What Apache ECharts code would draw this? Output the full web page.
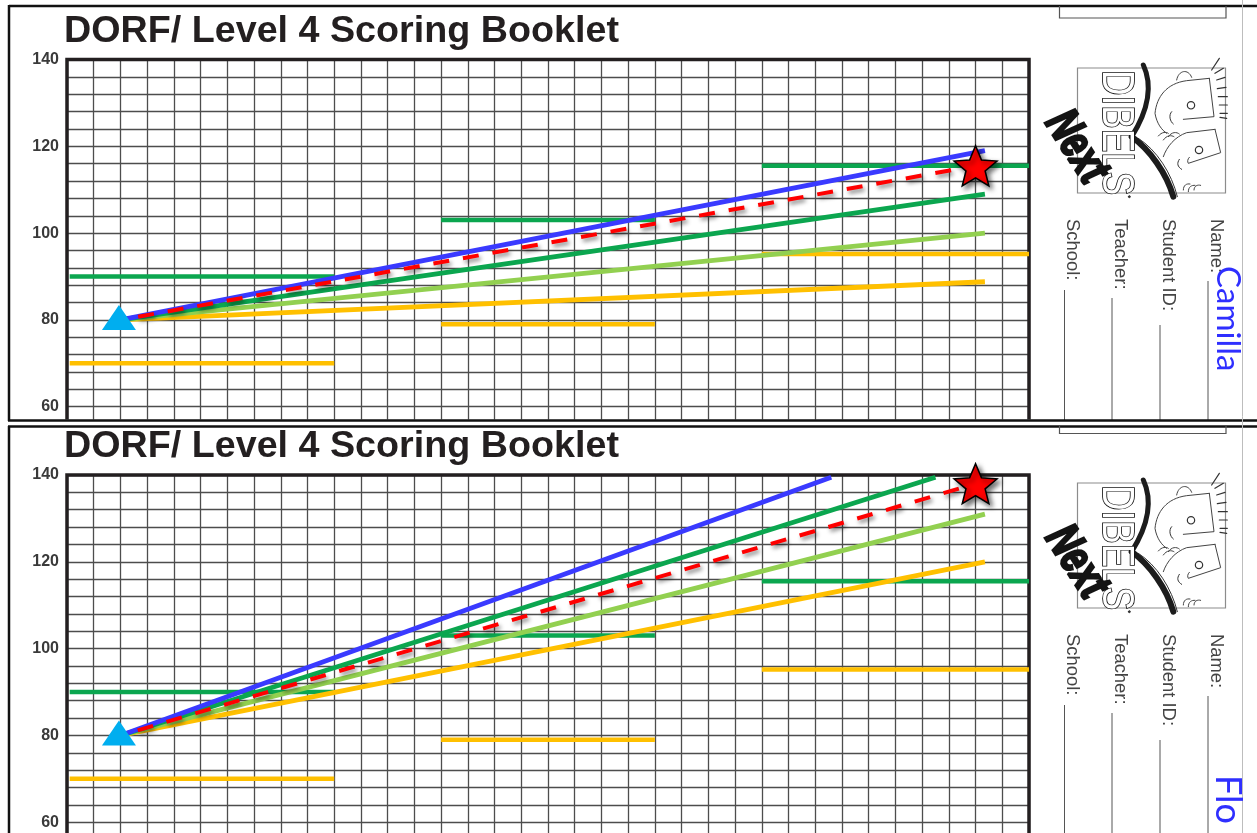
<!DOCTYPE html>
<html>
<head>
<meta charset="utf-8">
<style>html,body{margin:0;padding:0;background:#fff;overflow:hidden;width:1257px;height:833px}#c{width:1257px;height:850px}</style>
<script src="https://cdn.jsdelivr.net/npm/echarts@6/dist/echarts.min.js"></script>
</head>
<body>
<div id="c"></div>
<script>
// ---- values ----
const titleText = 'DORF/ Level 4 Scoring Booklet';
const yTickLabels = [60, 80, 100, 120, 140];
const fieldLabels = ['School:', 'Teacher:', 'Student ID:', 'Name:'];
const studentNames = ['Camilla', 'Flo'];
const benchSpans = [[0.1, 10], [14, 22], [26, 36]];
const greenBench = [90, 103, 115.5];
const yellowBench = [70, 79, 95.2];
const startPoint = [2, 80];
const camillaBlue = [34.35, 119];
const camillaGreen = [34.35, 109];
const camillaLight = [34.35, 100];
const camillaYellow = [34.35, 88.8];
const camillaGoal = [34, 115.5];
const floBlue = [28.6, 139.5];
const floGreen = [32.5, 139.5];
const floLight = [34.35, 131];
const floYellow = [34.35, 120];
const floGoal = [34, 138];

const C = {blue:'#3a3aff', green:'#0ba64f', light:'#92d050', yellow:'#ffc000', red:'#ff0000', tri:'#00aeef', ink:'#231f20'};
const starPath = 'path://M50 0 L63.8 33.6 L100 36.3 L72.3 59.9 L80.9 95.1 L50 76.1 L19.1 95.1 L27.7 59.9 L0 36.3 L36.2 33.6 Z';
const F = '"Liberation Sans", Arial, sans-serif';

function panelSeries(i, blue, green, light, yellow, goal) {
  const out = [];
  const base = {type:'line', xAxisIndex:i, yAxisIndex:i, symbol:'none', clip:false, silent:true};
  benchSpans.forEach((s, k) => {
    out.push({...base, z:3, data:[[s[0], yellowBench[k]], [s[1], yellowBench[k]]], lineStyle:{color:C.yellow, width:4.5, cap:'butt'}});
    out.push({...base, z:3, data:[[s[0], greenBench[k]], [s[1], greenBench[k]]], lineStyle:{color:C.green, width:4.5, cap:'butt'}});
  });
  [[yellow, C.yellow], [light, C.light], [green, C.green], [blue, C.blue]].forEach(p => {
    out.push({...base, z:4, data:[startPoint, p[0]], lineStyle:{color:p[1], width:4.8, cap:'butt'}});
  });
  out.push({...base, z:5, data:[startPoint, goal], lineStyle:{color:C.red, width:4, type:[16,14], dashOffset:-18,
    shadowColor:'rgba(0,0,0,0.45)', shadowBlur:4, shadowOffsetX:2, shadowOffsetY:3}});
  out.push({type:'scatter', xAxisIndex:i, yAxisIndex:i, z:6, silent:true, data:[startPoint], symbol:'triangle',
    symbolSize:[34,25], symbolOffset:[-1.5,-2.5], itemStyle:{color:C.tri, opacity:1}});
  out.push({type:'scatter', xAxisIndex:i, yAxisIndex:i, z:7, silent:true, data:[goal], symbol:starPath,
    symbolKeepAspect:false, symbolSize:[43,40],
    itemStyle:{color:C.red, opacity:1, borderColor:'#000', borderWidth:1.5, shadowColor:'rgba(0,0,0,0.55)', shadowBlur:5, shadowOffsetX:3, shadowOffsetY:3}});
  return out;
}

const grids = [59.5, 475].map(t => ({left:67, width:962, top:t, height:364.6, show:true, borderColor:C.ink, borderWidth:3.5, backgroundColor:'transparent', z:2}));
const xAxes = [0,1].map(i => ({type:'value', gridIndex:i, min:0, max:36, interval:1,
  axisLine:{show:false}, axisTick:{show:false}, axisLabel:{show:false},
  splitLine:{show:true, lineStyle:{color:'#4d4d4d', width:1.3}}}));
const yAxes = [0,1].map(i => ({type:'value', gridIndex:i, min:56, max:140, interval:4,
  axisLine:{show:false}, axisTick:{show:false},
  axisLabel:{show:true, customValues:yTickLabels, margin:8, color:'#3a3a3a', fontFamily:F, fontWeight:'bold', fontSize:16},
  splitLine:{show:true, lineStyle:{color:'#4d4d4d', width:1.3}}}));

const R = -Math.PI/2;
function vText(text, x, y, font, fill, extra) {
  return {type:'text', x, y, rotation:R, z:60, silent:true,
    style:{text, font, fill, align:'left', verticalAlign:'middle', ...(extra||{})}};
}
function line(x1,y1,x2,y2,stroke,w,z){
  return {type:'line', silent:true, z:z||60, shape:{x1,y1,x2,y2}, style:{stroke, lineWidth:w, fill:null}};
}
let shapeCount = 0;
function zp(d, w, stroke, fill){ // logo strokes written in 3x crop units
  const name = 'logoStroke' + (shapeCount++);
  echarts.graphic.registerShape(name, echarts.graphic.extendPath(d, {}));
  return {type:name, silent:true, z:61, scaleX:1/3, scaleY:1/3,
    style:{stroke:stroke||'#222', lineWidth:(w||1.5)*3, fill:fill||'none', lineCap:'round', lineJoin:'round'}};
}
function logo(dy){
  const kids = [
    {type:'rect', silent:true, z:60, shape:{x:1077.5-900, y:68, width:148, height:125}, style:{stroke:'#8c8c8c', lineWidth:1.2, fill:'#fff'}},
    zp('M730 195 C760 260 745 330 695 410', 5, '#1c1c1c'),
    zp('M695 410 C750 450 800 520 820 590', 6, '#1c1c1c'),
    zp('M715 415 C770 450 815 520 832 590', 1, '#333'),
    zp('M928 235 L860 242 C800 250 770 290 765 340 C770 370 785 390 800 400 M928 235 L942 350 L850 358', 1, '#444'),
    zp('M830 240 C835 210 865 205 875 232', 1, '#444'),
    zp('M873 316 m-11 0 a11 11 0 1 0 22 0 a11 11 0 1 0 -22 0', 1.2, '#333'),
    zp('M815 335 C805 345 810 365 820 372', 1, '#333'),
    zp('M945 388 L860 398 C825 410 800 440 790 470 M945 388 L962 458 L865 490 C862 485 862 478 868 472', 1, '#444'),
    zp('M897 450 m-11 0 a11 11 0 1 0 22 0 a11 11 0 1 0 -22 0', 1.2, '#333'),
    zp('M838 478 C830 490 832 500 845 508', 1, '#333'),
    zp('M775 408 C785 395 800 395 805 400 M790 420 C800 405 815 405 822 410 M805 410 C815 395 830 395 838 402', 1, '#444'),
    zp('M850 570 C850 555 860 550 870 552 M865 575 C865 560 875 555 885 556 M882 570 C882 558 892 553 902 556', 1, '#444'),
    zp('M958 175 L935 210 M970 205 L945 220 M975 232 L950 240 M978 262 L952 266 M982 290 L955 290 M982 315 L958 315 M982 340 L960 340 M980 355 L960 352', 1.2, '#333'),
    {type:'text', silent:true, z:61, x:1115-900, y:70, rotation:R, scaleX:0.8, scaleY:1,
      style:{text:'DIBELS', font:'44px '+F, fill:'#fff', stroke:'#111', lineWidth:1.7, align:'left', verticalAlign:'middle'}},
    {type:'text', silent:true, z:62, x:1076-900, y:147, rotation:-1.0, scaleX:1, scaleY:1.35,
      style:{text:'Next', font:'italic bold 35px '+F, fill:'#141414', stroke:'#141414', lineWidth:2, align:'center', verticalAlign:'middle'}},
    zp('M688 590 m-3 0 a3 3 0 1 0 6 0 a3 3 0 1 0 -6 0', 1, '#333', '#333'),
  ];
  return {type:'group', x:900, y:dy, children:kids};
}
function sideBlock(dy, bottom){
  const xs = [1072.5, 1120, 1168.5, 1216.5];
  const lx = [1064.5, 1112, 1160, 1208];
  const ly = [290, 298, 325, 281];
  const out = [];
  fieldLabels.forEach((t,i) => {
    out.push(vText(t, xs[i], 219+dy, '18.4px '+F, '#444'));
    out.push(line(lx[i], ly[i]+dy, lx[i], bottom, '#555', 1));
  });
  return out;
}

const graphic = [
  // the second sheet starts here, so the first one's grid is cut off
  {type:'rect', silent:true, z:50, shape:{x:0,y:419.5,width:1257,height:7}, style:{fill:'#fff'}},
  ...sideBlock(0, 420), ...sideBlock(415, 833),
  logo(0), logo(415),
  // sheet frames
  line(9,6,1257,6,'#111',2.5), line(9,5,9,421,'#111',2.5), line(8,420.5,1257,420.5,'#111',2.5),
  line(8,426.5,1257,426.5,'#111',2.5), line(9,426,9,833,'#111',2.5),
  // clipped box at the top of each sheet
  {type:'polyline', silent:true, z:60, shape:{points:[[1059.5,6],[1059.5,18],[1226,18],[1226,6]]}, style:{stroke:'#555',lineWidth:1.2,fill:null}},
  {type:'polyline', silent:true, z:60, shape:{points:[[1059.5,426],[1059.5,433.5],[1226,433.5],[1226,426]]}, style:{stroke:'#555',lineWidth:1.2,fill:null}},
  line(1242.5,0,1242.5,833,'#bdbdbd',1),
  vText(studentNames[0], 1228, 266, '33px Lato, "Noto Sans", sans-serif', '#2f2fff'),
  vText(studentNames[1], 1228, 775, '36px Lato, "Noto Sans", sans-serif', '#2f2fff'),
];

const chart = echarts.init(document.getElementById('c'), null, {renderer:'canvas'});
chart.setOption({
  animation:false, backgroundColor:'#fff',
  title:[13,428].map(t => ({text:titleText, left:59, top:t, padding:[0,5],
    textStyle:{fontFamily:F, fontWeight:'bold', fontSize:37.7, color:C.ink}})),
  grid:grids, xAxis:xAxes, yAxis:yAxes,
  series:[
    ...panelSeries(0, camillaBlue, camillaGreen, camillaLight, camillaYellow, camillaGoal),
    ...panelSeries(1, floBlue, floGreen, floLight, floYellow, floGoal),
  ],
  graphic:{elements:graphic}
});
</script>
</body>
</html>
